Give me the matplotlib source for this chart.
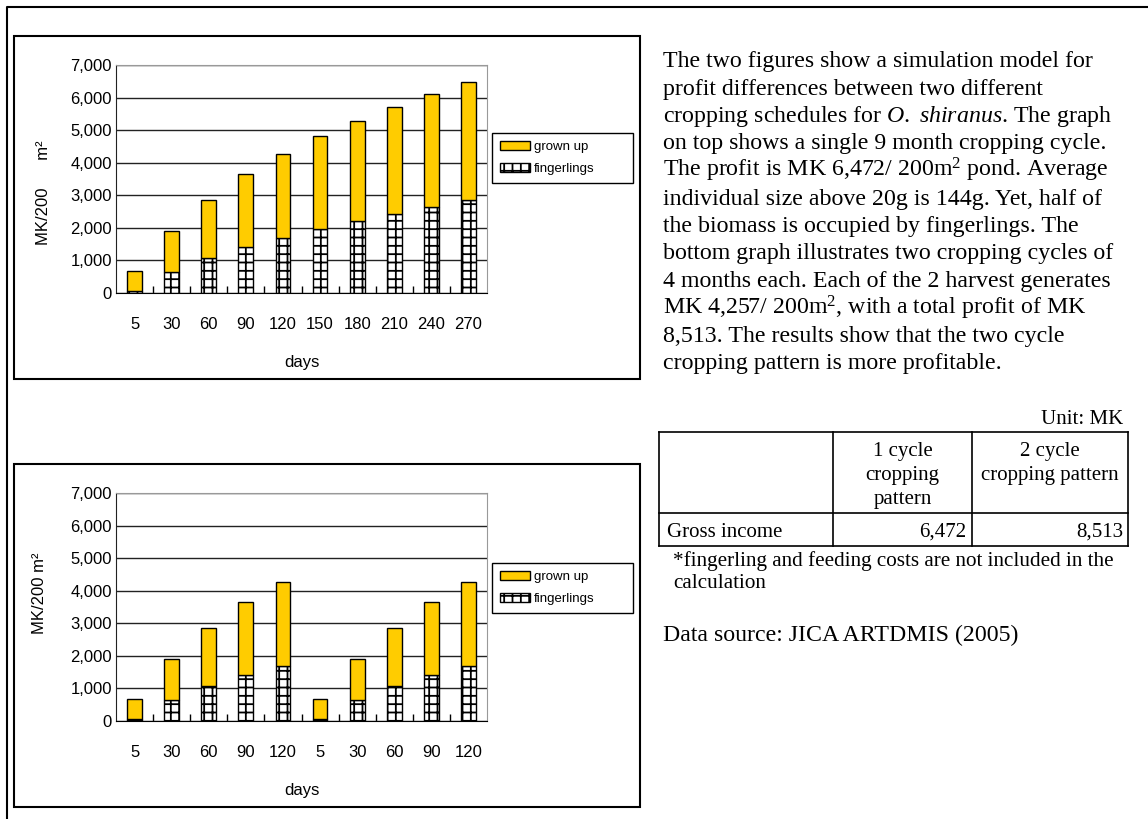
import numpy as np
import matplotlib
matplotlib.use('Agg')
import matplotlib.pyplot as plt
from matplotlib.patches import Rectangle
from matplotlib.ticker import FuncFormatter

# ---- data ----
days_one = [5, 30, 60, 90, 120, 150, 180, 210, 240, 270]
fing_one = [60, 650, 1060, 1420, 1700, 1960, 2210, 2420, 2640, 2850]
grown_one = [620, 1240, 1790, 2220, 2557, 2860, 3070, 3290, 3460, 3622]

days_two = [5, 30, 60, 90, 120, 5, 30, 60, 90, 120]
fing_two = [60, 650, 1060, 1420, 1700, 60, 650, 1060, 1420, 1700]
grown_two = [620, 1240, 1790, 2220, 2557, 620, 1240, 1790, 2220, 2557]

table_cols = ['1 cycle\ncropping\npattern', '2 cycle\ncropping pattern']
table_row = 'Gross income'
gross_income = [6472, 8513]

paragraph = [
    "The two figures show a simulation model for",
    "profit differences between two different",
    r"cropping schedules for $\mathit{O.}$ $\mathit{shiranus}$. The graph",
    "on top shows a single 9 month cropping cycle.",
    r"The profit is MK 6,472/ 200m$^2$ pond. Average",
    "individual size above 20g is 144g. Yet, half of",
    "the biomass is occupied by fingerlings. The",
    "bottom graph illustrates two cropping cycles of",
    "4 months each. Each of the 2 harvest generates",
    r"MK 4,257/ 200m$^2$, with a total profit of MK",
    "8,513. The results show that the two cycle",
    "cropping pattern is more profitable.",
]

YELLOW = '#FFCC00'
SANS = 'Liberation Sans'
SERIF = 'Liberation Serif'

plt.rcParams['font.family'] = SANS
plt.rcParams['mathtext.fontset'] = 'custom'
plt.rcParams['mathtext.rm'] = SERIF
plt.rcParams['mathtext.it'] = SERIF + ':italic'
plt.rcParams['hatch.linewidth'] = 1.3

W, H = 1148, 819
fig = plt.figure(figsize=(W / 100, H / 100), dpi=100)


def px_rect(l, t, r, b):
    return [l / W, 1 - b / H, (r - l) / W, (b - t) / H]


# background canvas in pixel coords (y down)
canvas = fig.add_axes([0, 0, 1, 1], zorder=-1)
canvas.set_xlim(0, W)
canvas.set_ylim(H, 0)
canvas.axis('off')

canvas.plot([7, 7, W], [H, 7, 7], color='black', lw=1.5, clip_on=False)
for top in (36, 464):
    canvas.add_patch(Rectangle((14, top), 626, 343, fill=False,
                               edgecolor='black', lw=1.5))


def draw_chart(rect, days, fing, grown, legend_top, ylabel, ylab_xy):
    ax = fig.add_axes(px_rect(*rect))
    x = np.arange(len(days))
    b_f = ax.bar(x, fing, width=0.4, color='white', edgecolor='black',
                 hatch='++', lw=1)
    b_g = ax.bar(x, grown, bottom=fing, width=0.4, color=YELLOW,
                 edgecolor='black', lw=1)
    ax.set_xlim(-0.5, len(days) - 0.5)
    ax.set_ylim(0, 7000)
    ax.set_yticks(range(0, 7001, 1000))
    ax.yaxis.set_major_formatter(FuncFormatter(lambda v, p: f'{int(v):,}'))
    ax.yaxis.grid(True, color='#222222', lw=1)
    ax.set_axisbelow(True)
    ax.tick_params(axis='y', length=0, pad=3, labelsize=12)
    ax.set_xticks(x, [str(d) for d in days])
    ax.set_xticks(np.arange(1, len(days)) - 0.5, minor=True)
    ax.tick_params(axis='x', which='major', length=0, pad=17, labelsize=12)
    ax.tick_params(axis='x', which='minor', direction='in', length=5,
                   width=1)
    ax.set_xlabel('days', fontsize=12, labelpad=17)
    for s in ('top', 'right'):
        ax.spines[s].set_color('#999999')
    ax.spines['left'].set_color('#222222')
    leg = ax.legend([b_g, b_f], ['grown up', 'fingerlings'],
                    loc='upper left',
                    bbox_to_anchor=(492 / W, 1 - (legend_top + 53) / H,
                                    141 / W, 53 / H),
                    bbox_transform=fig.transFigure, mode='expand',
                    borderaxespad=0, fancybox=False, edgecolor='black',
                    framealpha=1, fontsize=9.5, handlelength=2.3,
                    handleheight=0.7, handletextpad=0.3, labelspacing=0.75,
                    borderpad=0.6)
    leg.get_frame().set_linewidth(1)
    canvas.text(ylab_xy[0], ylab_xy[1], ylabel, rotation=90, ha='center',
                va='center', fontsize=12, family=SANS)
    return ax


draw_chart((116, 65, 487, 293), days_one, fing_one, grown_one, 133,
           'MK/200      m\u00b2', (44, 193))
draw_chart((116, 493, 487, 721), days_two, fing_two, grown_two, 563,
           'MK/200 m\u00b2', (40, 593))

# paragraph
for i, line in enumerate(paragraph):
    canvas.text(663, 67 + i * 27.5, line, fontsize=17.2, family=SERIF,
                va='baseline', ha='left')

# table
tl, tr, tt, tm, tb = 659, 1128, 432, 513, 546
c1, c2 = 833, 972
lw = 1.2
for yy in (tt, tm, tb):
    canvas.plot([tl, tr], [yy, yy], color='black', lw=lw)
for xx in (tl, c1, c2, tr):
    canvas.plot([xx, xx], [tt, tb], color='black', lw=lw)

canvas.text(1123, 424, 'Unit: MK', fontsize=15, family=SERIF,
            ha='right', va='baseline')
col_centers = [(c1 + c2) / 2, (c2 + tr) / 2]
for cx, label in zip(col_centers, table_cols):
    for j, part in enumerate(label.split('\n')):
        canvas.text(cx, 456 + j * 24, part, fontsize=15, family=SERIF,
                    ha='center', va='baseline')
canvas.text(667, 537, table_row, fontsize=15, family=SERIF,
            ha='left', va='baseline')
for xr, v in zip((966, 1123), gross_income):
    canvas.text(xr, 537, f'{v:,}', fontsize=15, family=SERIF,
                ha='right', va='baseline')

canvas.text(673, 566, '*fingerling and feeding costs are not included in the',
            fontsize=15.2, family=SERIF, va='baseline')
canvas.text(673, 588, 'calculation', fontsize=15.2, family=SERIF,
            va='baseline')
canvas.text(663, 641, 'Data source: JICA ARTDMIS (2005)', fontsize=17.2,
            family=SERIF, va='baseline')

fig.savefig('out.png', dpi=100)
